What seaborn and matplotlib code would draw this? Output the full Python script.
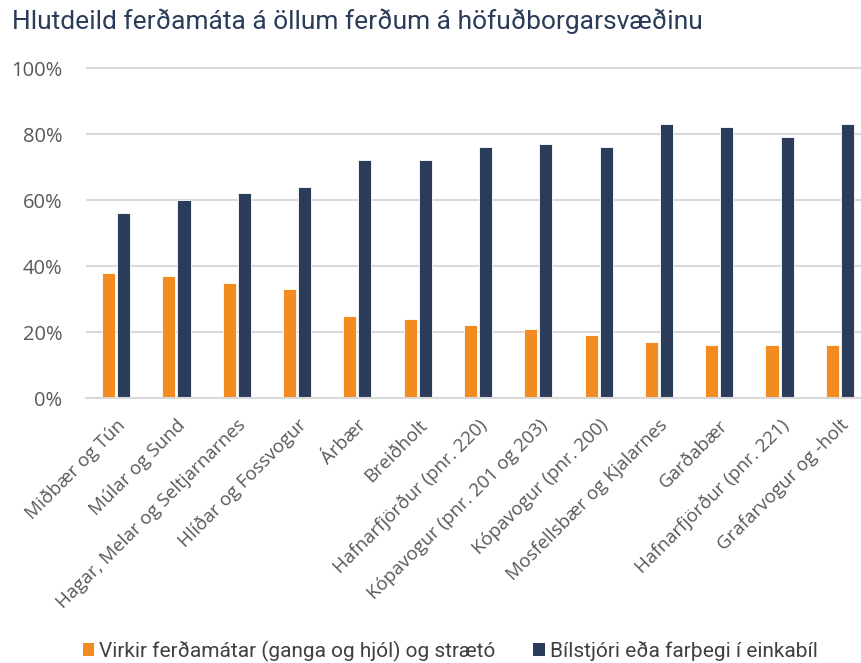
import numpy as np
import pandas as pd
import matplotlib
matplotlib.use("Agg")
import matplotlib.pyplot as plt
import seaborn as sns
from matplotlib.ticker import PercentFormatter
from matplotlib.patches import Patch

hverfi = ["Miðbær og Tún", "Múlar og Sund", "Hagar, Melar og Seltjarnarnes",
          "Hlíðar og Fossvogur", "Árbær", "Breiðholt", "Hafnarfjörður (pnr. 220)",
          "Kópavogur (pnr. 201 og 203)", "Kópavogur (pnr. 200)",
          "Mosfellsbær og Kjalarnes", "Garðabær", "Hafnarfjörður (pnr. 221)",
          "Grafarvogur og -holt"]
virkir = [38, 37, 35, 33, 25, 24, 22, 21, 19, 17, 16, 16, 16]
bill = [56, 60, 62, 64, 72, 72, 76, 77, 76, 83, 82, 79, 83]
series = ["Virkir ferðamátar (ganga og hjól) og strætó",
          "Bílstjóri eða farþegi í einkabíl"]
colors = ["#F28B20", "#2A3C59"]

df = pd.DataFrame({
    "hverfi": hverfi * 2,
    "hlutfall": np.array(virkir + bill) / 100.0,
    "flokkur": [series[0]] * len(hverfi) + [series[1]] * len(hverfi),
})

sns.set_style("white")
plt.rcParams["font.family"] = ["Open Sans", "DejaVu Sans"]

fig = plt.figure(figsize=(8.62, 6.63), dpi=100)
ax = fig.add_axes([86 / 862, 265 / 663, 784 / 862, 333.3 / 663])

sns.barplot(data=df, x="hverfi", y="hlutfall", hue="flokkur", palette=colors,
            width=0.5, gap=0.13, ax=ax, legend=False, saturation=1,
            edgecolor="white", linewidth=0.6)

ax.set_ylim(0, 1.01)
ax.set_xlim(-0.5, len(hverfi) - 0.5)
ax.set_yticks(np.arange(0, 1.01, 0.2))
ax.yaxis.set_major_formatter(PercentFormatter(1.0, decimals=0))
ax.grid(axis="y", color="#D9D9D9", linewidth=1.5)
ax.set_axisbelow(True)
for s in ["top", "right", "left"]:
    ax.spines[s].set_visible(False)
ax.spines["bottom"].set_color("#D9D9D9")
ax.spines["bottom"].set_linewidth(1.5)
ax.set_xlabel("")
ax.set_ylabel("")
ax.tick_params(axis="y", length=0, pad=17, labelsize=14.5, labelcolor="#595959")
ax.tick_params(axis="x", length=0, pad=13, labelsize=13.5, labelcolor="#595959")
plt.setp(ax.get_xticklabels(), rotation=45, ha="right", rotation_mode="anchor")

fig.text(12 / 862, 1 - 21 / 663, "Hlutdeild ferðamáta á öllum ferðum á höfuðborgarsvæðinu",
         fontsize=19, color="#2A3C59", family=["Roboto", "DejaVu Sans"],
         va="center", ha="left")

handles = [Patch(facecolor=c, edgecolor="none") for c in colors]
fig.legend(handles, series, loc="center left", bbox_to_anchor=(64 / 862, 1 - 651 / 663),
           ncol=2, frameon=False, handlelength=0.55, handleheight=0.55,
           handletextpad=0.25, columnspacing=1.8,
           prop={"family": ["Roboto", "DejaVu Sans"], "size": 15})
for t in fig.legends[0].get_texts():
    t.set_color("#404040")

fig.savefig("out.png", dpi=100)
